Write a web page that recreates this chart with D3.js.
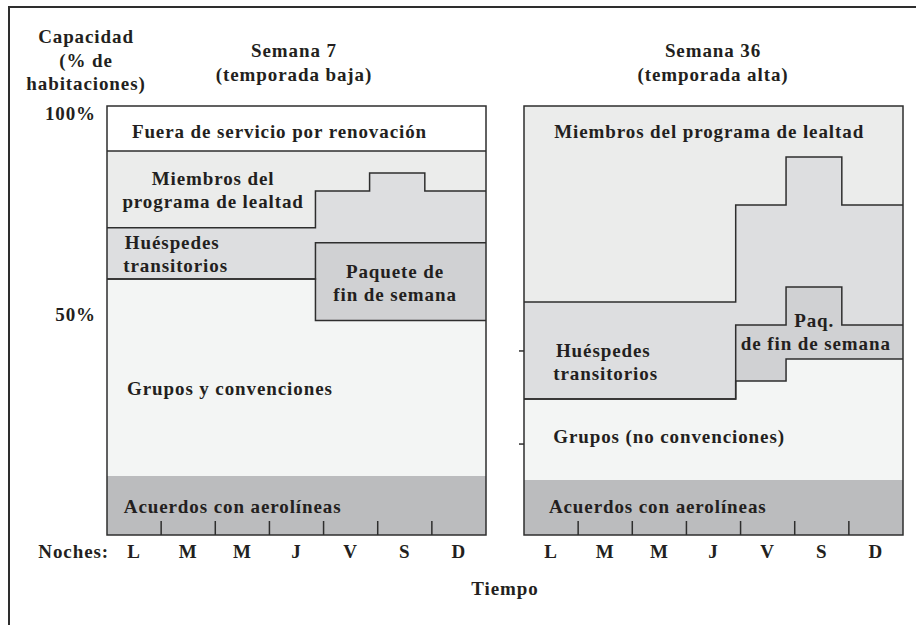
<!DOCTYPE html>
<html>
<head>
<meta charset="utf-8">
<script src="https://cdn.jsdelivr.net/npm/d3@7"></script>
<style>
  html, body { margin: 0; padding: 0; background: #fff; }
  svg text { font-family: "Liberation Serif", "DejaVu Serif", serif; font-weight: bold; fill: #231f20; font-size: 19px; letter-spacing: 0.9px; }
</style>
</head>
<body>
<svg id="chart" width="916" height="625"></svg>
<script>
const days = ["L", "M", "M", "J", "V", "S", "D"];
const yTickValues = [100, 50];
const yTickLabels = ["100%", "50%"];
const highTickValues = [42.9, 21.2];

// step breakpoints (in nights) for each week
const lowBreaks = [0, 3.85, 4.85, 5.87, 7];
const highBreaks = [0, 3.91, 4.84, 5.87, 7];

// cumulative top of each layer, one value per step segment (% of rooms)
const lowAirline = [13.75, 13.75, 13.75, 13.75];
const lowGroups = [59.7, 50, 50, 50];
const lowPackage = [59.7, 68.1, 68.1, 68.1];
const lowTransient = [71.6, 80.2, 84.4, 80.2];
const lowLoyalty = [89.5, 89.5, 89.5, 89.5];
const lowOutOfService = [100, 100, 100, 100];

const highAirline = [12.8, 12.8, 12.8, 12.8];
const highGroups = [31.7, 35.9, 41.0, 41.0];
const highPackage = [31.7, 48.95, 57.8, 48.95];
const highTransient = [54.3, 76.9, 88.1, 76.9];
const highLoyalty = [100, 100, 100, 100];

const FILLS = {
  airline: "#bbbcbe",
  groups: "#f3f5f4",
  package: "#d0d1d3",
  transient: "#dddee0",
  loyalty: "#ebeceb",
  outOfService: "#ffffff"
};
const INK = "#2e2e2e";

const svg = d3.select("#chart");

// outer frame, cut off on the right and bottom like the source
svg.append("rect")
  .attr("x", 9).attr("y", 7)
  .attr("width", 1000).attr("height", 1000)
  .attr("fill", "none").attr("stroke", INK).attr("stroke-width", 2);

const y = d3.scaleLinear().domain([0, 100]).range([535, 106]);

function stepPoints(breaks, values) {
  const points = values.map((value, index) => ({ d: breaks[index], v: value }));
  points.push({ d: breaks[breaks.length - 1], v: values[values.length - 1] });
  return points;
}

function drawPanel(left, breaks, layers, labels) {
  const x = d3.scaleLinear().domain([0, 7]).range([left, left + 379]);
  const g = svg.append("g");
  const area = d3.area().curve(d3.curveStepAfter).x((p) => x(p.d));
  const line = d3.line().curve(d3.curveStepAfter).x((p) => x(p.d)).y((p) => y(p.v));

  let previous = layers[0].values.map(() => 0);
  for (const layer of layers) {
    const bottom = stepPoints(breaks, previous);
    const top = stepPoints(breaks, layer.values);
    g.append("path")
      .datum(top.map((p, i) => ({ d: p.d, v: p.v, v0: bottom[i].v })))
      .attr("fill", layer.fill)
      .attr("d", area.y0((p) => y(p.v0)).y1((p) => y(p.v)));
    previous = layer.values;
  }

  for (const layer of layers) {
    if (!layer.outline) {
      continue;
    }
    g.append("path")
      .datum(stepPoints(breaks, layer.values))
      .attr("fill", "none")
      .attr("stroke", INK)
      .attr("stroke-width", 1.5)
      .attr("d", line);
  }

  g.append("rect")
    .attr("x", x(0)).attr("y", y(100))
    .attr("width", x(7) - x(0)).attr("height", y(0) - y(100))
    .attr("fill", "none").attr("stroke", INK).attr("stroke-width", 1.5);

  // night separators along the bottom
  g.selectAll("line.night")
    .data(d3.range(1, 7))
    .join("line")
    .attr("x1", (d) => x(d)).attr("x2", (d) => x(d))
    .attr("y1", y(0)).attr("y2", y(0) - 14)
    .attr("stroke", INK).attr("stroke-width", 1.5);

  g.selectAll("text.day")
    .data(days)
    .join("text")
    .attr("x", (d, i) => x(i + 0.5))
    .attr("y", 558)
    .attr("text-anchor", "middle")
    .text((d) => d);

  for (const label of labels) {
    const text = g.append("text")
      .attr("text-anchor", label.anchor || "start");
    label.lines.forEach((content, i) => {
      text.append("tspan")
        .attr("x", x(label.d[i] ?? label.d[0]))
        .attr("y", y(label.v[i]))
        .text(content);
    });
  }

  return x;
}

drawPanel(107, lowBreaks, [
  { values: lowAirline, fill: FILLS.airline, outline: false },
  { values: lowGroups, fill: FILLS.groups, outline: true },
  { values: lowPackage, fill: FILLS.package, outline: true },
  { values: lowTransient, fill: FILLS.transient, outline: true },
  { values: lowLoyalty, fill: FILLS.loyalty, outline: true },
  { values: lowOutOfService, fill: FILLS.outOfService, outline: false }
], [
  { lines: ["Fuera de servicio por renovación"], d: [0.46], v: [92.5] },
  { lines: ["Miembros del", "programa de lealtad"], d: [1.96], v: [81.6, 76.2], anchor: "middle" },
  { lines: ["Huéspedes", "transitorios"], d: [0.33, 0.30], v: [66.7, 61.3] },
  { lines: ["Paquete de", "fin de semana"], d: [5.32], v: [59.9, 54.5], anchor: "middle" },
  { lines: ["Grupos y convenciones"], d: [0.37], v: [32.6] },
  { lines: ["Acuerdos con aerolíneas"], d: [0.31], v: [5.1] }
]);

const xHigh = drawPanel(524, highBreaks, [
  { values: highAirline, fill: FILLS.airline, outline: false },
  { values: highGroups, fill: FILLS.groups, outline: true },
  { values: highPackage, fill: FILLS.package, outline: true },
  { values: highTransient, fill: FILLS.transient, outline: true },
  { values: highLoyalty, fill: FILLS.loyalty, outline: false }
], [
  { lines: ["Miembros del programa de lealtad"], d: [3.42], v: [92.5], anchor: "middle" },
  { lines: ["Paq.", "de fin de semana"], d: [5.36, 5.39], v: [48.5, 43.1], anchor: "middle" },
  { lines: ["Huéspedes", "transitorios"], d: [0.59, 0.54], v: [41.5, 36.1] },
  { lines: ["Grupos (no convenciones)"], d: [0.54], v: [21.4] },
  { lines: ["Acuerdos con aerolíneas"], d: [0.46], v: [5.1] }
]);

// small ticks on the left edge of the high-season panel
svg.selectAll("line.htick")
  .data(highTickValues)
  .join("line")
  .attr("x1", xHigh(0) - 5).attr("x2", xHigh(0))
  .attr("y1", (d) => y(d)).attr("y2", (d) => y(d))
  .attr("stroke", INK).attr("stroke-width", 1.5);

svg.selectAll("text.ytick")
  .data(yTickValues)
  .join("text")
  .attr("x", 96)
  .attr("y", (d) => y(d) + (d === 100 ? 14 : 0))
  .attr("text-anchor", "end")
  .text((d, i) => yTickLabels[i]);

function block(lines, cx, firstBaseline, gap) {
  const text = svg.append("text").attr("text-anchor", "middle");
  lines.forEach((content, i) => {
    text.append("tspan").attr("x", cx).attr("y", firstBaseline + i * gap).text(content);
  });
}

block(["Capacidad", "(% de", "habitaciones)"], 86, 43, 23.5);
block(["Semana 7", "(temporada baja)"], 294, 57, 23.5);
block(["Semana 36", "(temporada alta)"], 713, 57, 23.5);

svg.append("text").attr("x", 109).attr("y", 558).attr("text-anchor", "end").text("Noches:");
svg.append("text").attr("x", 505).attr("y", 595).attr("text-anchor", "middle").text("Tiempo");
</script>
</body>
</html>
